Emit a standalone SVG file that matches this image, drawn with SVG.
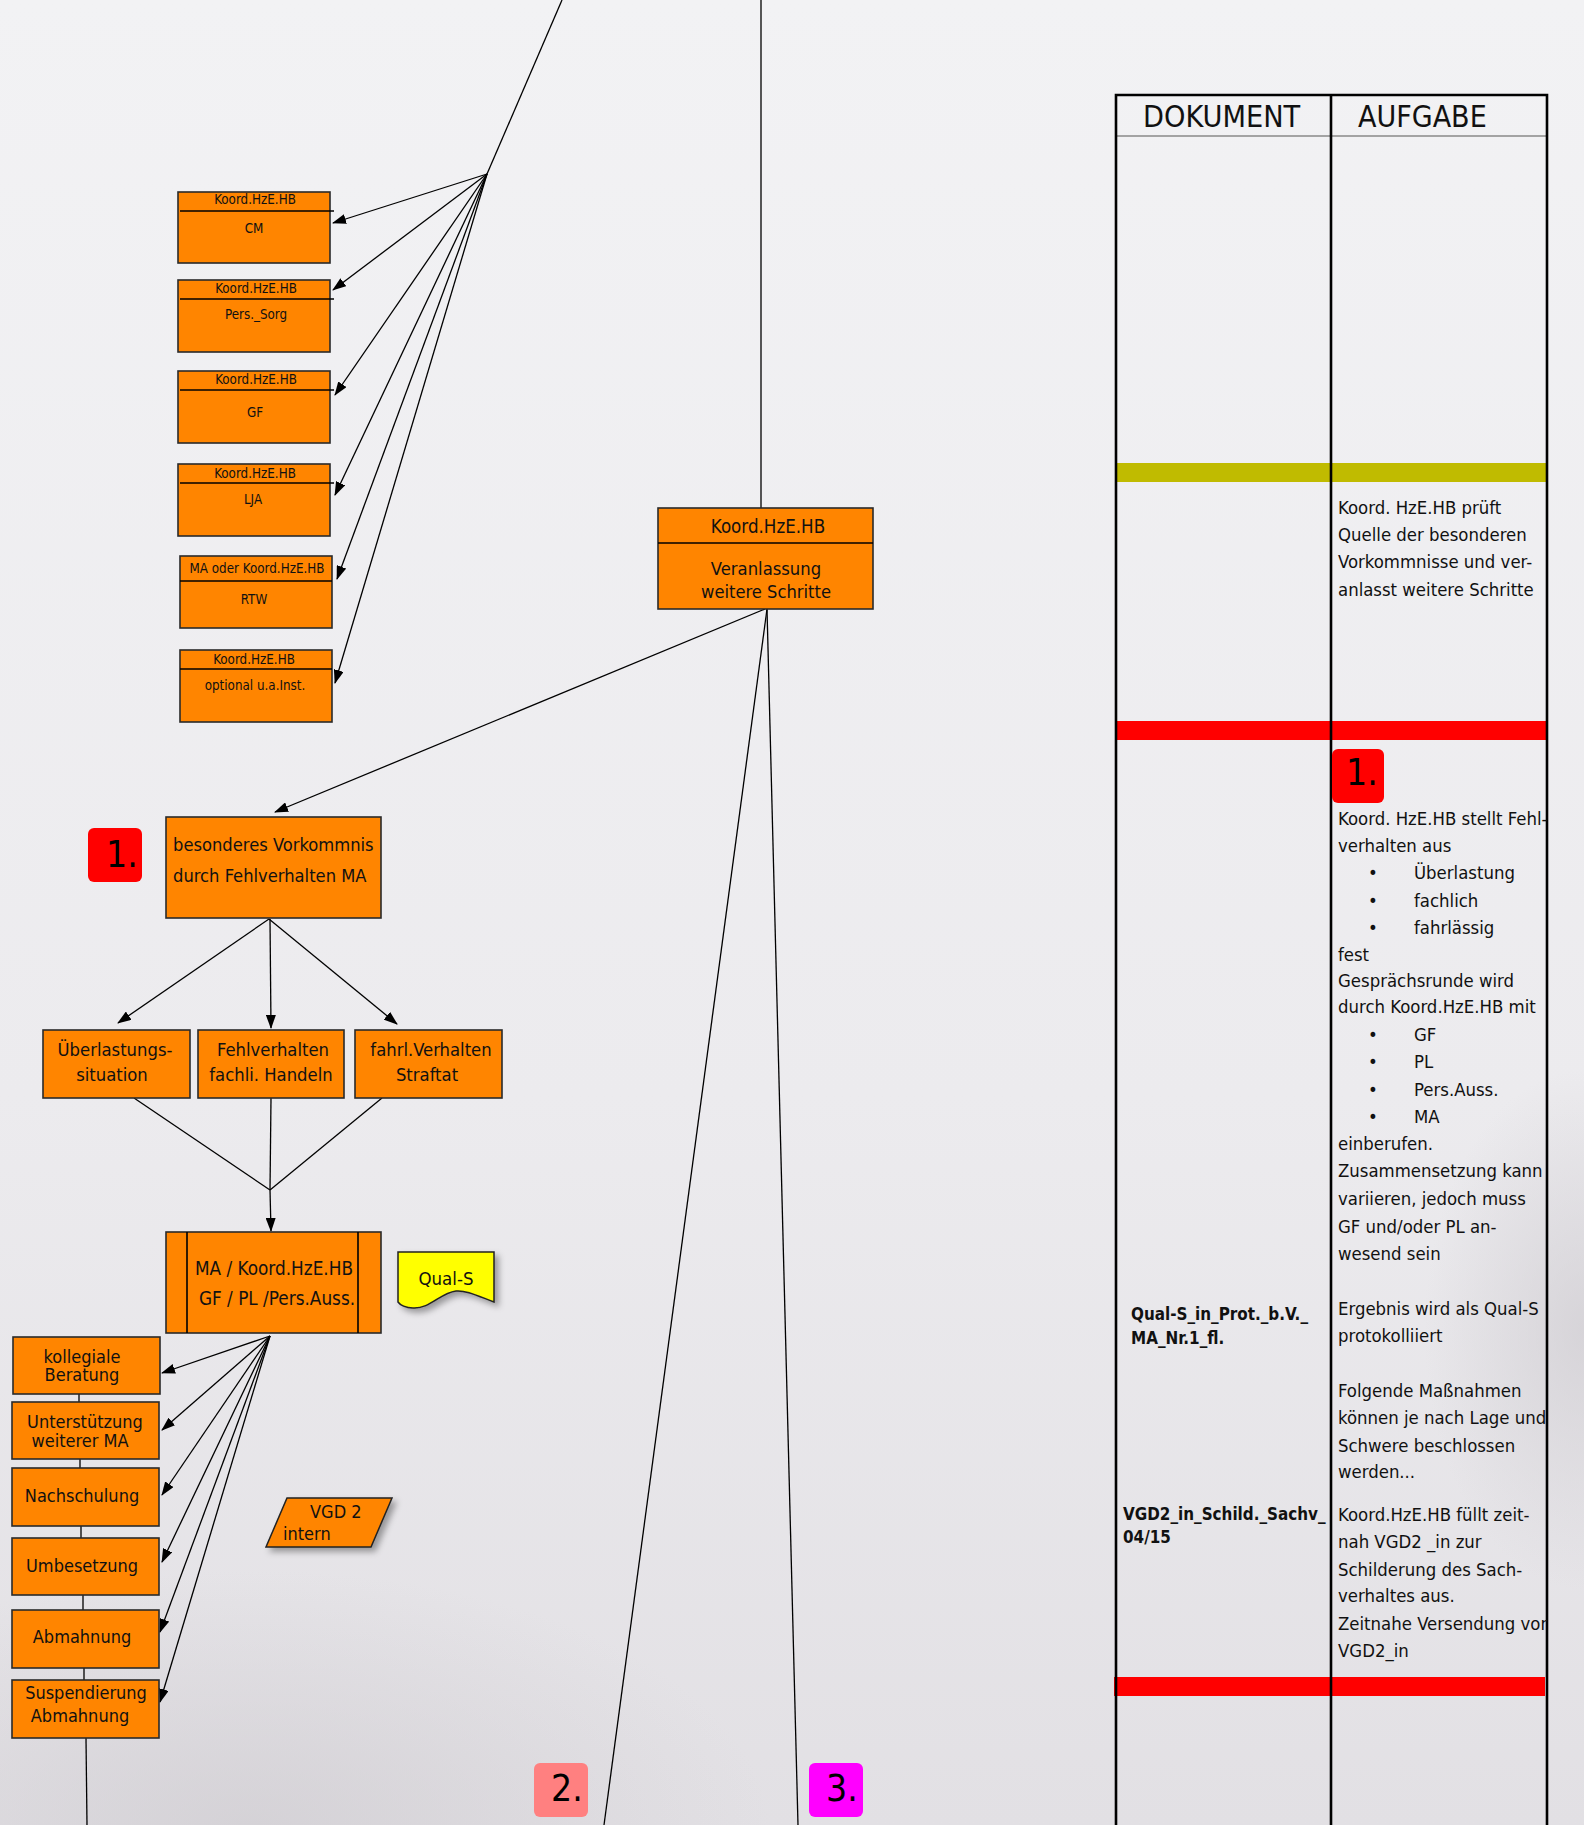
<svg xmlns="http://www.w3.org/2000/svg" width="1584" height="1825" viewBox="0 0 1584 1825">
<style>
.t{font-family:"DejaVu Sans Condensed","Liberation Sans",Arial,sans-serif;fill:#111}
.s{font-size:13.3px}
.box{fill:#ff8500;stroke:#2a2a2a;stroke-width:1.6}
.hdr{stroke:#000;stroke-width:1.6}
.c{stroke:#000;stroke-width:1.3;fill:none}
.ca{stroke:#000;stroke-width:1.3;fill:none;marker-end:url(#ah)}
.tl{stroke:#000;stroke-width:2.6;fill:none}
.badge{font-family:"DejaVu Sans Condensed","Liberation Sans",Arial,sans-serif;font-size:37px;fill:#000}
.tx{font-family:"DejaVu Sans Condensed","Liberation Sans",Arial,sans-serif;font-size:18.4px;fill:#111}
.tb{font-family:"DejaVu Sans Condensed","Liberation Sans",Arial,sans-serif;font-size:16.9px;font-weight:bold;fill:#111}
</style>
<defs>
<marker id="ah" markerWidth="14" markerHeight="10" refX="13" refY="5" orient="auto" markerUnits="userSpaceOnUse"><path d="M0,0 L14,5 L0,10 z" fill="#000"/></marker>
<filter id="sh" x="-20%" y="-20%" width="150%" height="160%"><feDropShadow dx="4" dy="4" stdDeviation="3" flood-color="#000" flood-opacity="0.35"/></filter>
<linearGradient id="bg" x1="0" y1="0" x2="0" y2="1"><stop offset="0" stop-color="#f2f2f4"/><stop offset="0.6" stop-color="#ecebee"/><stop offset="1" stop-color="#e2e0e4"/></linearGradient>
<radialGradient id="dk" cx="0.5" cy="0.5" r="0.5"><stop offset="0" stop-color="#cfccd1" stop-opacity="0.7"/><stop offset="1" stop-color="#cfccd1" stop-opacity="0"/></radialGradient>
<clipPath id="colclip"><rect x="1330" y="90" width="217" height="1735"/></clipPath>
</defs>
<rect x="0" y="0" width="1584" height="1825" fill="url(#bg)"/>
<ellipse cx="250" cy="1830" rx="520" ry="260" fill="url(#dk)"/>
<ellipse cx="1584" cy="1330" rx="160" ry="260" fill="url(#dk)"/>

<g id="table">
<rect x="1116" y="463" width="431" height="19" fill="#c0bb00"/>
<rect x="1116" y="721" width="431" height="19" fill="#ff0000"/>
<rect x="1114" y="1677" width="431" height="19" fill="#ff0000"/>
<line x1="1116" y1="136" x2="1547" y2="136" stroke="#888" stroke-width="1.5"/>
<path class="tl" d="M1116,1825 V95 H1547 V1825"/>
<line class="tl" x1="1331" y1="95" x2="1331" y2="1825"/>
<text class="t" x="1143" y="127" font-size="30.3">DOKUMENT</text>
<text class="t" x="1358" y="127" font-size="30">AUFGABE</text>
<rect x="1332" y="749" width="52" height="54" rx="6" fill="#ff0000"/>
<text class="badge" x="1346" y="785">1.</text>
<g clip-path="url(#colclip)">
<text class="tx" x="1338" y="514">Koord. HzE.HB prüft</text>
<text class="tx" x="1338" y="541">Quelle der besonderen</text>
<text class="tx" x="1338" y="568">Vorkommnisse und ver-</text>
<text class="tx" x="1338" y="596">anlasst weitere Schritte</text>
<text class="tx" x="1338" y="825">Koord. HzE.HB stellt Fehl-</text>
<text class="tx" x="1338" y="852">verhalten aus</text>
<text class="tx" x="1368" y="879">•</text><text class="tx" x="1414" y="879">Überlastung</text>
<text class="tx" x="1368" y="907">•</text><text class="tx" x="1414" y="907">fachlich</text>
<text class="tx" x="1368" y="934">•</text><text class="tx" x="1414" y="934">fahrlässig</text>
<text class="tx" x="1338" y="961">fest</text>
<text class="tx" x="1338" y="987">Gesprächsrunde wird</text>
<text class="tx" x="1338" y="1013">durch Koord.HzE.HB mit</text>
<text class="tx" x="1368" y="1041">•</text><text class="tx" x="1414" y="1041">GF</text>
<text class="tx" x="1368" y="1068">•</text><text class="tx" x="1414" y="1068">PL</text>
<text class="tx" x="1368" y="1096">•</text><text class="tx" x="1414" y="1096">Pers.Auss.</text>
<text class="tx" x="1368" y="1123">•</text><text class="tx" x="1414" y="1123">MA</text>
<text class="tx" x="1338" y="1150">einberufen.</text>
<text class="tx" x="1338" y="1177">Zusammensetzung kann</text>
<text class="tx" x="1338" y="1205">variieren, jedoch muss</text>
<text class="tx" x="1338" y="1233">GF und/oder PL an-</text>
<text class="tx" x="1338" y="1260">wesend sein</text>
<text class="tx" x="1338" y="1315">Ergebnis wird als Qual-S</text>
<text class="tx" x="1338" y="1342">protokolliiert</text>
<text class="tx" x="1338" y="1397">Folgende Maßnahmen</text>
<text class="tx" x="1338" y="1424">können je nach Lage und</text>
<text class="tx" x="1338" y="1452">Schwere beschlossen</text>
<text class="tx" x="1338" y="1478">werden...</text>
<text class="tx" x="1338" y="1521">Koord.HzE.HB füllt zeit-</text>
<text class="tx" x="1338" y="1548">nah VGD2 _in zur</text>
<text class="tx" x="1338" y="1576">Schilderung des Sach-</text>
<text class="tx" x="1338" y="1602">verhaltes aus.</text>
<text class="tx" x="1338" y="1630">Zeitnahe Versendung von</text>
<text class="tx" x="1338" y="1657">VGD2_in</text>
</g>
<text class="tb" x="1131" y="1320">Qual-S_in_Prot._b.V._</text>
<text class="tb" x="1131" y="1344">MA_Nr.1_fl.</text>
<text class="tb" x="1123" y="1520">VGD2_in_Schild._Sachv_</text>
<text class="tb" x="1123" y="1543">04/15</text>
</g>

<g id="connectors">
<line class="c" x1="562" y1="0" x2="487" y2="174"/>
<line class="ca" x1="487" y1="174" x2="333" y2="223"/>
<line class="ca" x1="487" y1="174" x2="333" y2="290"/>
<line class="ca" x1="487" y1="174" x2="335" y2="395"/>
<line class="ca" x1="487" y1="174" x2="335" y2="495"/>
<line class="ca" x1="487" y1="174" x2="337" y2="579"/>
<line class="ca" x1="487" y1="174" x2="335" y2="683"/>
<line class="c" x1="761" y1="0" x2="761" y2="508"/>
<line class="ca" x1="765" y1="609" x2="275" y2="812"/>
<line class="c" x1="767" y1="609" x2="604" y2="1825"/>
<line class="c" x1="767" y1="609" x2="798" y2="1825"/>
<line class="ca" x1="269" y1="919" x2="118" y2="1023"/>
<line class="ca" x1="270" y1="919" x2="271" y2="1028"/>
<line class="ca" x1="269" y1="919" x2="397" y2="1024"/>
<line class="c" x1="134" y1="1098" x2="270" y2="1190"/>
<line class="c" x1="271" y1="1098" x2="270" y2="1190"/>
<line class="c" x1="382" y1="1098" x2="270" y2="1190"/>
<line class="ca" x1="270" y1="1190" x2="271" y2="1231"/>
<line class="ca" x1="270" y1="1336" x2="162" y2="1373"/>
<line class="ca" x1="270" y1="1336" x2="162" y2="1430"/>
<line class="ca" x1="270" y1="1336" x2="162" y2="1495"/>
<line class="ca" x1="270" y1="1336" x2="162" y2="1562"/>
<line class="ca" x1="270" y1="1336" x2="160" y2="1632"/>
<line class="ca" x1="270" y1="1336" x2="160" y2="1702"/>
<line class="c" x1="79" y1="1394" x2="79" y2="1402"/>
<line class="c" x1="80" y1="1459" x2="80" y2="1468"/>
<line class="c" x1="81" y1="1526" x2="81" y2="1538"/>
<line class="c" x1="83" y1="1595" x2="83" y2="1610"/>
<line class="c" x1="84" y1="1668" x2="84" y2="1680"/>
<line class="c" x1="86" y1="1738" x2="87" y2="1825"/>
</g>

<g id="n-cm">
<rect class="box" x="178" y="192" width="152" height="71"/>
<line class="hdr" x1="180" y1="211" x2="334" y2="211"/>
<text class="t s" x="255" y="204" text-anchor="middle">Koord.HzE.HB</text>
<text class="t s" x="254" y="233" text-anchor="middle">CM</text>
</g>
<g id="n-pers">
<rect class="box" x="178" y="280" width="152" height="72"/>
<line class="hdr" x1="180" y1="299" x2="334" y2="299"/>
<text class="t s" x="256" y="293" text-anchor="middle">Koord.HzE.HB</text>
<text class="t s" x="256" y="319" text-anchor="middle">Pers._Sorg</text>
</g>
<g id="n-gf">
<rect class="box" x="178" y="371" width="152" height="72"/>
<line class="hdr" x1="180" y1="390" x2="334" y2="390"/>
<text class="t s" x="256" y="384" text-anchor="middle">Koord.HzE.HB</text>
<text class="t s" x="255" y="417" text-anchor="middle">GF</text>
</g>
<g id="n-lja">
<rect class="box" x="178" y="464" width="152" height="72"/>
<line class="hdr" x1="180" y1="483" x2="334" y2="483"/>
<text class="t s" x="255" y="478" text-anchor="middle">Koord.HzE.HB</text>
<text class="t s" x="253" y="504" text-anchor="middle">LJA</text>
</g>
<g id="n-rtw">
<rect class="box" x="180" y="556" width="152" height="72"/>
<line class="hdr" x1="180" y1="581" x2="332" y2="581"/>
<text class="t s" x="257" y="573" text-anchor="middle">MA oder Koord.HzE.HB</text>
<text class="t s" x="254" y="604" text-anchor="middle">RTW</text>
</g>
<g id="n-opt">
<rect class="box" x="180" y="650" width="152" height="72"/>
<line class="hdr" x1="180" y1="669" x2="332" y2="669"/>
<text class="t s" x="254" y="664" text-anchor="middle">Koord.HzE.HB</text>
<text class="t s" x="255" y="690" text-anchor="middle">optional u.a.Inst.</text>
</g>

<g id="n-veranlassung">
<rect class="box" x="658" y="508" width="215" height="101"/>
<line class="hdr" x1="658" y1="543" x2="873" y2="543" stroke-width="2.2"/>
<text class="t" x="768" y="533" font-size="18.6" text-anchor="middle">Koord.HzE.HB</text>
<text class="t" x="766" y="575" font-size="18.3" text-anchor="middle">Veranlassung</text>
<text class="t" x="766" y="598" font-size="18.2" text-anchor="middle">weitere Schritte</text>
</g>

<g id="badge1">
<rect x="88" y="828" width="54" height="54" rx="6" fill="#ff0000"/>
<text class="badge" x="106" y="867">1.</text>
</g>

<g id="n-besonderes">
<rect class="box" x="166" y="817" width="215" height="101"/>
<text class="t" x="173" y="851" font-size="18.2">besonderes Vorkommnis</text>
<text class="t" x="173" y="882" font-size="18.2">durch Fehlverhalten MA</text>
</g>

<g id="n-ueberlastung">
<rect class="box" x="43" y="1030" width="147" height="68"/>
<text class="t" x="115" y="1056" font-size="18.3" text-anchor="middle">Überlastungs-</text>
<text class="t" x="112" y="1081" font-size="18.3" text-anchor="middle">situation</text>
</g>
<g id="n-fehlverhalten">
<rect class="box" x="198" y="1030" width="146" height="68"/>
<text class="t" x="273" y="1056" font-size="18.3" text-anchor="middle">Fehlverhalten</text>
<text class="t" x="271" y="1081" font-size="18.3" text-anchor="middle">fachli. Handeln</text>
</g>
<g id="n-fahrl">
<rect class="box" x="355" y="1030" width="147" height="68"/>
<text class="t" x="431" y="1056" font-size="18.3" text-anchor="middle">fahrl.Verhalten</text>
<text class="t" x="427" y="1081" font-size="18.3" text-anchor="middle">Straftat</text>
</g>

<g id="n-gespraech">
<rect class="box" x="166" y="1232" width="215" height="101"/>
<line class="hdr" x1="187" y1="1232" x2="187" y2="1333"/>
<line class="hdr" x1="358" y1="1232" x2="358" y2="1333"/>
<text class="t" x="274" y="1275" font-size="18.8" text-anchor="middle">MA / Koord.HzE.HB</text>
<text class="t" x="277" y="1305" font-size="18.8" text-anchor="middle">GF / PL /Pers.Auss.</text>
</g>

<g id="n-quals">
<path d="M398,1252 H494 V1302 C478,1296 466,1290 456,1291 C440,1293 430,1309 413,1308 C406,1308 400,1305 398,1302 Z" fill="#ffff00" stroke="#222" stroke-width="1.5" filter="url(#sh)"/>
<text class="t" x="446" y="1285" font-size="18.5" text-anchor="middle">Qual-S</text>
</g>

<g id="n-vgd">
<path d="M287,1498 H392 L371,1547 H266 Z" fill="#ff8500" stroke="#222" stroke-width="1.5" filter="url(#sh)"/>
<text class="t" x="310" y="1518" font-size="18">VGD 2</text>
<text class="t" x="283" y="1540" font-size="18">intern</text>
</g>

<g id="n-kollegiale">
<rect class="box" x="13" y="1337" width="147" height="57"/>
<text class="t" x="82" y="1363" font-size="18" text-anchor="middle">kollegiale</text>
<text class="t" x="82" y="1381" font-size="18" text-anchor="middle">Beratung</text>
</g>
<g id="n-unterstuetzung">
<rect class="box" x="12" y="1402" width="147" height="57"/>
<text class="t" x="85" y="1428" font-size="18" text-anchor="middle">Unterstützung</text>
<text class="t" x="80" y="1447" font-size="18" text-anchor="middle">weiterer MA</text>
</g>
<g id="n-nachschulung">
<rect class="box" x="12" y="1468" width="147" height="58"/>
<text class="t" x="82" y="1502" font-size="18" text-anchor="middle">Nachschulung</text>
</g>
<g id="n-umbesetzung">
<rect class="box" x="12" y="1538" width="147" height="57"/>
<text class="t" x="82" y="1572" font-size="18" text-anchor="middle">Umbesetzung</text>
</g>
<g id="n-abmahnung">
<rect class="box" x="12" y="1610" width="147" height="58"/>
<text class="t" x="82" y="1643" font-size="18" text-anchor="middle">Abmahnung</text>
</g>
<g id="n-suspendierung">
<rect class="box" x="12" y="1680" width="147" height="58"/>
<text class="t" x="86" y="1699" font-size="18" text-anchor="middle">Suspendierung</text>
<text class="t" x="80" y="1722" font-size="18" text-anchor="middle">Abmahnung</text>
</g>

<g id="badge2">
<rect x="534" y="1763" width="54" height="54" rx="6" fill="#ff8080"/>
<text class="badge" x="551" y="1801">2.</text>
</g>
<g id="badge3">
<rect x="809" y="1763" width="54" height="54" rx="6" fill="#ff00ff"/>
<text class="badge" x="826" y="1801">3.</text>
</g>
</svg>
